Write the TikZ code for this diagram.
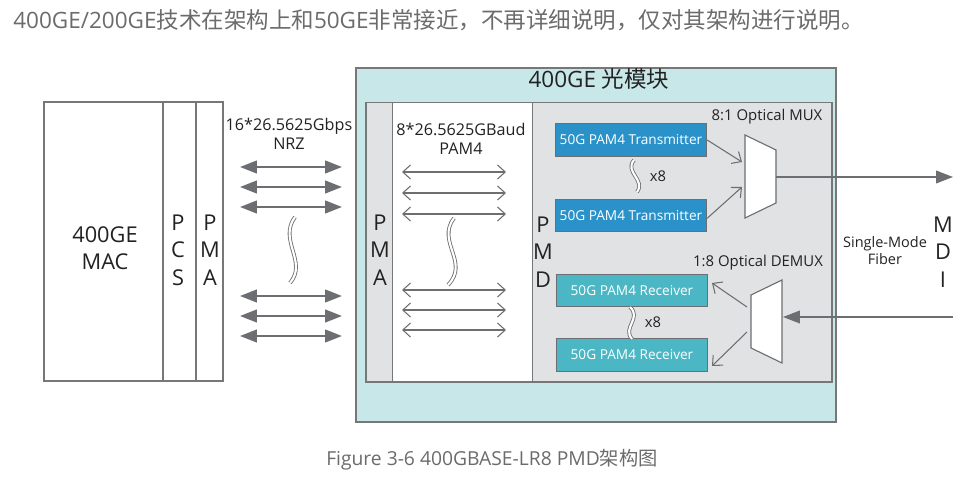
\documentclass[tikz,border=0pt]{standalone}
\usepackage{fontspec}
\setmainfont{Open Sans}
\newfontfamily\cjk{Noto Sans CJK SC}
\usetikzlibrary{arrows.meta}
\definecolor{linegray}{HTML}{777777}
\definecolor{arrowgray}{HTML}{6D6E71}
\definecolor{modcyan}{HTML}{C8E7E9}
\definecolor{pmdgray}{HTML}{E1E2E4}
\definecolor{txblue}{HTML}{2A92C8}
\definecolor{rxteal}{HTML}{4CB7C4}
\definecolor{textgray}{HTML}{6B6B6B}
\definecolor{labelgray}{HTML}{222222}

\begin{document}
\begin{tikzpicture}[x=0.025cm, y=-0.025cm,
	box/.style={draw=linegray, line width=1pt, inner sep=0pt},
	lbl/.style={text=labelgray, inner sep=0pt, align=center},
	big/.style={font=\fontsize{15.5}{19.5}\selectfont},
	small/.style={font=\fontsize{11.5}{13.5}\selectfont},
	chip/.style={box, draw=arrowgray, line width=0.8pt, text=white, minimum width=3.78cm, minimum height=0.81cm, font=\fontsize{9.7}{11}\selectfont},
	mux/.style={draw=arrowgray, line width=0.8pt, fill=white},
	wave/.style={draw=arrowgray, line width=0.6pt, double=white, double distance=1.5pt},
	fatarrow/.style={draw=arrowgray, line width=1.5pt, {Triangle[length=12pt,width=9pt]}-{Triangle[length=12pt,width=9pt]}},
	thinarrow/.style={draw=arrowgray, line width=0.75pt, {Straight Barb[length=5.5pt,width=10pt]}-{Straight Barb[length=5.5pt,width=10pt]}},
	onearrow/.style={draw=arrowgray, line width=0.75pt, -{Straight Barb[length=5.5pt,width=10pt]}},
	fiber/.style={draw=arrowgray, line width=1pt, -{Triangle[length=12pt,width=9pt]}}]
	\useasboundingbox (0,0) rectangle (969,478);
	
	\node[anchor=west, inner sep=0pt, text=textgray, font=\fontsize{16}{18}\selectfont] (intro) at (13,20){400GE/200GE{\cjk 技术在架构上和}50GE{\cjk 非常接近，不再详细说明，仅对其架构进行说明。}};
	
	\node[box, minimum width=2.975cm, minimum height=6.975cm] (mac) at (103.5,241.5){};
	\node[box, minimum width=0.825cm, minimum height=6.975cm] (pcs) at (179.5,241.5){};
	\node[box, minimum width=0.675cm, minimum height=6.975cm] (pma) at (209.5,241.5){};
	\node[lbl, big] (macl) at (105,248){400GE\\MAC};
	\node[lbl, big] (pcsl) at (178,250){P\\C\\S};
	\node[lbl, big] (pmal) at (210,250){P\\M\\A};
	
	\node[box, fill=modcyan, minimum width=12cm, minimum height=8.85cm] (module) at (596,245){};
	\node[lbl, font=\fontsize{16}{18}\selectfont] (title) at (599,79){400GE {\cjk 光模块}};
	\node[box, fill=pmdgray, minimum width=11.65cm, minimum height=6.99cm] (inner) at (599,242.3){};
	\node[box, fill=white, minimum width=3.49cm, minimum height=6.99cm] (lane) at (462.5,242.3){};
	\node[lbl, big] (ipmal) at (380,250){P\\M\\A};
	\node[lbl, big] (pmdl) at (543,252){P\\M\\D};
	\node[lbl, big] (mdil) at (943,252){M\\D\\I};
	
	\node[lbl, small] (nrz) at (289,134){16*26.5625Gbps\\NRZ};
	\node[lbl, small] (pam) at (461,139){8*26.5625GBaud\\PAM4};
	\foreach \y [count=\i] in {167,187,207,296,316,336}{
		\coordinate (nl\i) at (240,\y);
		\coordinate (nr\i) at (342,\y);
		\path (nl\i) edge[fatarrow] (nr\i);
	}
	\foreach \y [count=\i] in {172,193,214,290,310,330}{
		\coordinate (pl\i) at (402,\y);
		\coordinate (pr\i) at (506,\y);
		\path (pl\i) edge[thinarrow] (pr\i);
	}
	\draw[wave] (295,217) .. controls (278,240) and (308,262) .. (290,283);
	\draw[wave] (454,218) .. controls (436,242) and (470,262) .. (448,285);
	
	\node[chip, fill=txblue] (tx1) at (631,140){50G PAM4 Transmitter};
	\node[chip, fill=txblue] (tx2) at (631,215.5){50G PAM4 Transmitter};
	\node[chip, fill=rxteal] (rx1) at (632,290.5){50G PAM4 Receiver};
	\node[chip, fill=rxteal] (rx2) at (632,355){50G PAM4 Receiver};
	\draw[wave] (634,160) .. controls (624,172) and (646,180) .. (637,192);
	\draw[wave] (630,307) .. controls (642,318) and (622,328) .. (632,339);
	\node[lbl, font=\fontsize{10.5}{12}\selectfont] (txn) at (658,176){x8};
	\node[lbl, font=\fontsize{10.5}{12}\selectfont] (rxn) at (653,322){x8};
	
	\node[lbl, font=\fontsize{10.6}{12}\selectfont] (muxl) at (767,117){8:1 Optical MUX};
	\node[lbl, font=\fontsize{10.6}{12}\selectfont] (dmxl) at (758,263){1:8 Optical DEMUX};
	\draw[mux] (745,135) -- (776,150) -- (776,203) -- (745,218) -- cycle;
	\draw[mux] (751,295) -- (782,280) -- (782,363) -- (751,348) -- cycle;
	\coordinate (muxin1) at (742,162);
	\coordinate (muxin2) at (742,187);
	\coordinate (muxout) at (776,177);
	\coordinate (fibout) at (953,177);
	\coordinate (dmxin) at (783,317);
	\coordinate (fibin) at (953,317);
	\coordinate (dmxout1) at (747,307);
	\coordinate (dmxout2) at (747,332);
	\coordinate (rxin1) at (712,283);
	\coordinate (rxin2) at (712,366);
	\path (tx1.east) edge[onearrow] (muxin1);
	\path ([yshift=-0.07cm]tx2.east) edge[onearrow] (muxin2);
	\path (dmxout1) edge[onearrow] (rxin1);
	\path (dmxout2) edge[onearrow] (rxin2);
	\path (muxout) edge[fiber] (fibout);
	\path (fibin) edge[fiber] (dmxin);
	\node[lbl, font=\fontsize{10.3}{12}\selectfont] (smf) at (885,251){Single-Mode\\Fiber};
	
	\node[anchor=west, inner sep=0pt, text=textgray, font=\fontsize{13.7}{16}\selectfont] (caption) at (326,460){Figure 3-6 400GBASE-LR8 PMD{\cjk 架构图}};
\end{tikzpicture}
\end{document}
